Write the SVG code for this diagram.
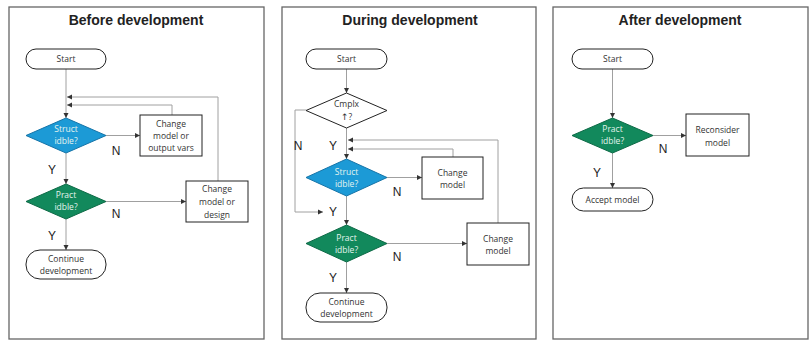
<svg xmlns="http://www.w3.org/2000/svg" width="809" height="340" viewBox="0 0 809 340">
<defs>
<marker id="ah" markerUnits="userSpaceOnUse" markerWidth="6" markerHeight="6" refX="5" refY="3" orient="auto">
<path d="M0,0.5 L5,3 L0,5.5 Z" fill="#333"/>
</marker>
<style>
.panel{fill:#fff;stroke:#666;stroke-width:1.3}
.title{font-family:"Liberation Sans",Arial,sans-serif;font-weight:bold;font-size:14px;fill:#222;text-anchor:middle}
.term{fill:#fff;stroke:#222;stroke-width:1}
.box{fill:#fff;stroke:#222;stroke-width:1}
.t{font-family:"Open Sans","Liberation Sans",sans-serif;font-size:8.5px;fill:#333;text-anchor:middle}
.tw{font-family:"Open Sans","Liberation Sans",sans-serif;font-size:8.5px;fill:#e4f4ee;text-anchor:middle}
.arr{font-family:"DejaVu Sans",sans-serif;font-size:9px}
.blue{fill:#1c9ad6;stroke:#1574a8;stroke-width:1}
.green{fill:#12895c;stroke:#0d6a46;stroke-width:1}
.wd{fill:#fff;stroke:#222;stroke-width:1}
.c{fill:none;stroke:#a0a0a0;stroke-width:1;marker-end:url(#ah)}
.yn{font-family:"Liberation Sans",Arial,sans-serif;font-size:12px;fill:#222;text-anchor:middle}
</style>
</defs>

<rect class="panel" x="9" y="7" width="255" height="332"/>
<rect class="panel" x="282" y="7" width="254" height="332"/>
<rect class="panel" x="553" y="7" width="255" height="332"/>
<text class="title" x="136" y="25">Before development</text>
<text class="title" x="410" y="25">During development</text>
<text class="title" x="680" y="25">After development</text>

<g id="connectors">
<path class="c" d="M66,69 V118"/>
<path class="c" d="M106,135.5 H140"/>
<path class="c" d="M66,153 V184"/>
<path class="c" d="M106,201.5 H186"/>
<path class="c" d="M66,219 V250"/>
<path class="c" d="M172,115 V105 H67"/>
<path class="c" d="M218,181 V97 H67"/>

<path class="c" d="M346.5,69 V93"/>
<path class="c" d="M346.5,128 V159"/>
<path class="c" d="M306,110 H295 V212 H323"/>
<path class="c" d="M387,177.5 H422"/>
<path class="c" d="M346.5,196 V225"/>
<path class="c" d="M387,243.5 H467"/>
<path class="c" d="M346.5,262 V293"/>
<path class="c" d="M453,157 V149 H348"/>
<path class="c" d="M498,223 V140 H348"/>

<path class="c" d="M612.5,69 V118"/>
<path class="c" d="M653,135.5 H686"/>
<path class="c" d="M612.5,153 V188"/>
</g>

<g id="p1-start"><rect class="term" x="26" y="49" width="80" height="20" rx="10"/><text class="t" x="66" y="62">Start</text></g>
<g id="p1-struct"><path class="blue" d="M66,118 L106,135.5 L66,153 L26,135.5 Z"/><text class="tw" x="66" y="132">Struct</text><text class="tw" x="66" y="144">idble?</text></g>
<g id="p1-change1"><rect class="box" x="140" y="115" width="62" height="41"/><text class="t" x="171" y="127">Change</text><text class="t" x="171" y="139">model or</text><text class="t" x="171" y="151">output vars</text></g>
<g id="p1-pract"><path class="green" d="M66,184 L106,201.5 L66,219 L26,201.5 Z"/><text class="tw" x="66" y="198">Pract</text><text class="tw" x="66" y="210">idble?</text></g>
<g id="p1-change2"><rect class="box" x="186" y="181" width="62" height="41"/><text class="t" x="217" y="192">Change</text><text class="t" x="217" y="205">model or</text><text class="t" x="217" y="218">design</text></g>
<g id="p1-continue"><rect class="term" x="26" y="250" width="80" height="29" rx="14"/><text class="t" x="66" y="262">Continue</text><text class="t" x="66" y="274">development</text></g>
<g id="p1-labels"><text class="yn" x="116" y="155">N</text><text class="yn" x="52" y="174">Y</text><text class="yn" x="116" y="218">N</text><text class="yn" x="52" y="240">Y</text></g>

<g id="p2-start"><rect class="term" x="306" y="49" width="81" height="20" rx="10"/><text class="t" x="346.5" y="62">Start</text></g>
<g id="p2-cmplx"><path class="wd" d="M346.5,93 L387,110.5 L346.5,128 L306,110.5 Z"/><text class="t" x="346.5" y="107">Cmplx</text><text class="t" x="346.5" y="120"><tspan class="arr">↑</tspan>?</text></g>
<g id="p2-struct"><path class="blue" d="M346.5,159 L387,177.5 L346.5,196 L306,177.5 Z"/><text class="tw" x="346.5" y="175">Struct</text><text class="tw" x="346.5" y="187">idble?</text></g>
<g id="p2-change1"><rect class="box" x="422" y="157" width="61" height="42"/><text class="t" x="452.5" y="176">Change</text><text class="t" x="452.5" y="188">model</text></g>
<g id="p2-pract"><path class="green" d="M346.5,225 L387,243.5 L346.5,262 L306,243.5 Z"/><text class="tw" x="346.5" y="241">Pract</text><text class="tw" x="346.5" y="253">idble?</text></g>
<g id="p2-change2"><rect class="box" x="467" y="223" width="62" height="42"/><text class="t" x="498" y="242">Change</text><text class="t" x="498" y="254">model</text></g>
<g id="p2-continue"><rect class="term" x="306" y="293" width="81" height="29" rx="14"/><text class="t" x="346.5" y="305">Continue</text><text class="t" x="346.5" y="317">development</text></g>
<g id="p2-labels"><text class="yn" x="298" y="150">N</text><text class="yn" x="333" y="150">Y</text><text class="yn" x="333" y="216">Y</text><text class="yn" x="397" y="196">N</text><text class="yn" x="397" y="261">N</text><text class="yn" x="333" y="282">Y</text></g>

<g id="p3-start"><rect class="term" x="572" y="49" width="81" height="20" rx="10"/><text class="t" x="612.5" y="62">Start</text></g>
<g id="p3-pract"><path class="green" d="M612.5,118 L653,135.5 L612.5,153 L572,135.5 Z"/><text class="tw" x="612.5" y="132">Pract</text><text class="tw" x="612.5" y="144">idble?</text></g>
<g id="p3-reconsider"><rect class="box" x="686" y="114" width="63" height="42"/><text class="t" x="717.5" y="133">Reconsider</text><text class="t" x="717.5" y="146">model</text></g>
<g id="p3-accept"><rect class="term" x="572" y="188" width="81" height="23" rx="11.5"/><text class="t" x="612.5" y="202.5">Accept model</text></g>
<g id="p3-labels"><text class="yn" x="663" y="153">N</text><text class="yn" x="597" y="177">Y</text></g>
</svg>
